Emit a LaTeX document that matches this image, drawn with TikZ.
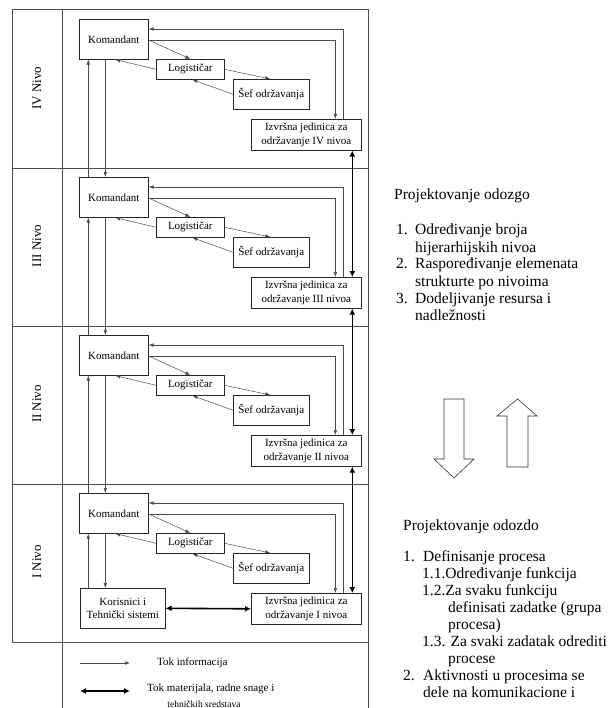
\documentclass[tikz,border=0pt]{standalone}
\usepackage{fontspec}
\setmainfont{Liberation Serif}
\usetikzlibrary{arrows.meta,calc}
\begin{document}
\begin{tikzpicture}[x=1pt,y=-1pt,
  box/.style={draw=black!85, line width=0.6pt, inner sep=0pt, anchor=north west, align=center, font=\fontsize{11}{13.5}\selectfont, fill=white},
  info/.style={draw=black!70, line width=0.5pt, -{Latex[length=5pt,width=3.6pt]}},
  flow/.style={draw=black, line width=1.6pt, {Latex[length=6pt,width=6pt]}-{Latex[length=6pt,width=6pt]}},
  frame/.style={draw=black!70, line width=0.6pt},
  nivo/.style={rotate=90, font=\fontsize{13}{15}\selectfont},
  rtext/.style={anchor=base west, inner sep=0pt, font=\fontsize{15.5}{17}\selectfont},
  legtext/.style={anchor=west, inner sep=0pt, font=\fontsize{11}{13}\selectfont},
  bigarrow/.style={draw=black!80, line width=0.6pt}
]
\useasboundingbox (0,0) rectangle (613,708);

% frame
\draw[frame] (12,9) rectangle (368,642);
\draw[frame] (62,9) -- (62,708);
\draw[frame] (368,642) -- (368,708);
\foreach \yy in {168,326,484} \draw[frame] (12,\yy) -- (368,\yy);

% levels
\foreach \n/\T/\lab in {4/10/IV,3/168/III,2/326/II,1/484/I} {
  \node[nivo] (N\n) at (37,\T+78) {\lab{} Nivo};
  \node[box, minimum width=69pt, minimum height=40pt] (K\n) at (79,\T+9) {Komandant};
  \node[box, minimum width=68pt, minimum height=20pt] (L\n) at (156,\T+49) {Logističar};
  \node[box, minimum width=76pt, minimum height=30pt] (S\n) at (233,\T+69) {Šef održavanja};
  \node[box, minimum width=110pt, minimum height=31pt] (I\n) at (251,\T+109) {Izvršna jedinica za\\održavanje \lab{} nivoa};
  \draw[info] ([yshift=-21pt]K\n.north east) -- (L\n.north);
  \draw[info] (L\n.west) -- ([xshift=1.5pt]K\n.south);
  \draw[info] (L\n.east) -- ([xshift=-1pt]S\n.north);
  \draw[info] (S\n.west) -- ([xshift=2pt]L\n.south);
  \draw[info] ([xshift=37pt]I\n.north) |- ([yshift=-10pt]K\n.north east);
  \draw[info] ([yshift=-21pt]K\n.north east) -| ([xshift=29pt]I\n.north);
}

% between levels
\foreach \u/\l in {4/3,3/2,2/1} {
  \draw[info] ([xshift=-25.5pt]K\l.north) -- ([xshift=-25.5pt]K\u.south);
  \draw[info] ([xshift=-8.5pt]K\u.south) -- ([xshift=-8.5pt]K\l.north);
  \draw[flow] ([xshift=46pt]I\u.south) -- ([xshift=46pt]I\l.north);
}

% level I users
\node[box, minimum width=85pt, minimum height=40pt] (C) at (80,588) {Korisnici i\\Tehnički sistemi};
\coordinate (ku) at ([xshift=-25.5pt]K1.south);
\coordinate (kd) at ([xshift=-8.5pt]K1.south);
\draw[info] (C.north -| ku) -- (ku);
\draw[info] (kd) -- (C.north -| kd);
\draw[flow] (C.east) -- (I1.west);

% legend
\coordinate (a1) at (80,663); \coordinate (a2) at (130,663);
\draw[info] (a1) -- (a2);
\node[legtext] (t1) at (157,663) {Tok informacija};
\coordinate (b1) at (80,691); \coordinate (b2) at (130,691);
\draw[flow] (b1) -- (b2);
\node[legtext] (t2) at (147,689) {Tok materijala, radne snage i};
\node[inner sep=0pt, font=\fontsize{9.5}{11}\selectfont] (t3) at (204,704) {tehničkih sredstava};

% right text, top-down
\node[rtext] (h1) at (394,200) {Projektovanje odozgo};
\node[rtext] (u1n) at (396,235) {1.};
\node[rtext] (u1) at (415,235) {Određivanje broja};
\node[rtext] (u1b) at (415,252) {hijerarhijskih nivoa};
\node[rtext] (u2n) at (396,269) {2.};
\node[rtext] (u2) at (415,269) {Raspoređivanje elemenata};
\node[rtext] (u2b) at (415,286) {strukturte po nivoima};
\node[rtext] (u3n) at (396,303) {3.};
\node[rtext] (u3) at (415,303) {Dodeljivanje resursa i};
\node[rtext] (u3b) at (415,320) {nadležnosti};

% block arrows
\draw[bigarrow] (444,399) -- (464,399) -- (464,459) -- (474,459) -- (454,478) -- (434,459) -- (444,459) -- cycle;
\draw[bigarrow] (517.5,399) -- (537,416) -- (528,416) -- (528,467) -- (507,467) -- (507,416) -- (497,416) -- cycle;

% right text, bottom-up
\node[rtext] (h2) at (403,530) {Projektovanje odozdo};
\node[rtext] (d1n) at (403,561) {1.};
\node[rtext] (d1) at (423,561) {Definisanje procesa};
\node[rtext] (d11) at (422,578) {1.1.Određivanje funkcija};
\node[rtext] (d12) at (422,595) {1.2.Za svaku funkciju};
\node[rtext] (d12b) at (448,612) {definisati zadatke (grupa};
\node[rtext] (d12c) at (448,629) {procesa)};
\node[rtext] (d13) at (422,646) {1.3. Za svaki zadatak odrediti};
\node[rtext] (d13b) at (448,663) {procese};
\node[rtext] (d2n) at (403,680) {2.};
\node[rtext] (d2) at (423,680) {Aktivnosti u procesima se};
\node[rtext] (d2b) at (423,697) {dele na komunikacione i};
\end{tikzpicture}
\end{document}
